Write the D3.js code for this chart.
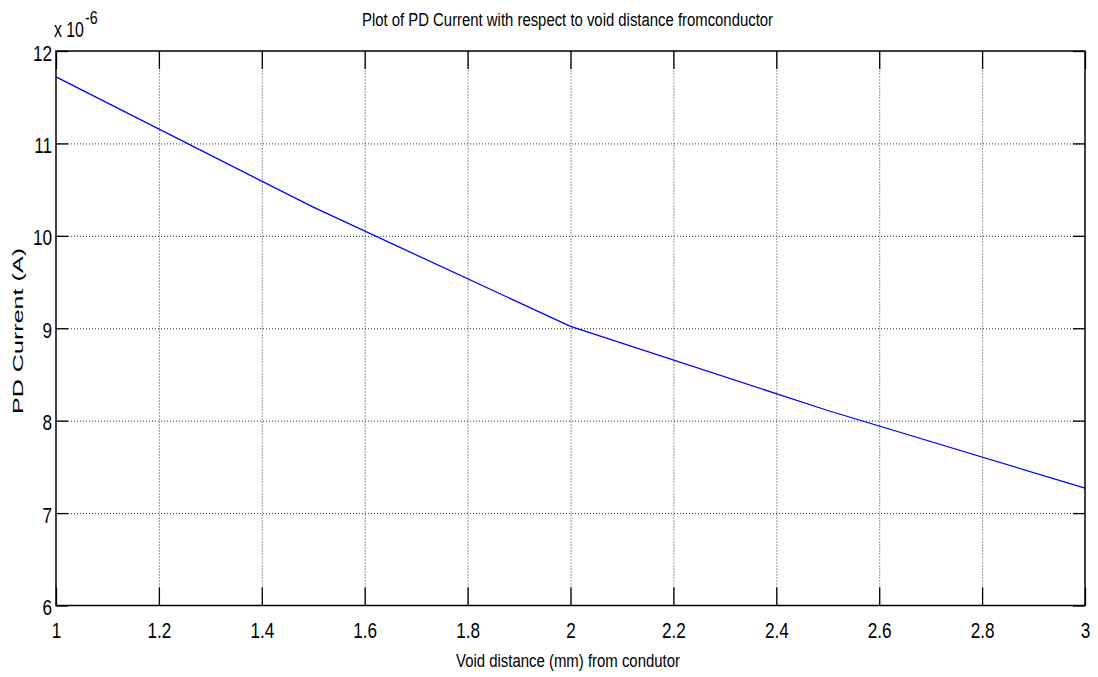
<!DOCTYPE html>
<html>
<head>
<meta charset="utf-8">
<script src="https://cdn.jsdelivr.net/npm/d3@7/dist/d3.min.js"></script>
<style>
  html, body { margin: 0; padding: 0; background: #fff; }
  svg { display: block; }
</style>
</head>
<body>
<svg id="chart" width="1098" height="677"></svg>
<script>
// ---- data ----
const voidDistance = [1, 1.5, 2, 2.5, 3];              // mm
const pdCurrent = [11.72, 10.31, 9.02, 8.11, 7.27];    // x 10^-6 A
const xTicks = [1, 1.2, 1.4, 1.6, 1.8, 2, 2.2, 2.4, 2.6, 2.8, 3];
const yTicks = [6, 7, 8, 9, 10, 11, 12];
const titleText = "Plot of PD Current with respect to void distance fromconductor";
const xLabelText = "Void distance (mm) from condutor";
const yLabelText = "PD Current (A)";

// ---- layout ----
const svg = d3.select("#chart");
const L = 56, R = 1085, T = 51, B = 605.5;
const W = R - L, H = B - T;
const FONT = "'Liberation Sans', Arial, Helvetica, sans-serif";

const x = d3.scaleLinear().domain([1, 3]).range([L, R]);
const y = d3.scaleLinear().domain([6, 12]).range([B, T]);

// grid lines (dotted)
const grid = svg.append("g");
grid.append("g")
  .attr("transform", `translate(0,${B})`)
  .call(d3.axisBottom(x).tickValues(xTicks.slice(1, -1)).tickSize(-H).tickFormat(""))
  .call(g => g.select(".domain").remove())
  .selectAll("line").attr("stroke", "#333").attr("stroke-width", 1).attr("stroke-dasharray", "1,2");
grid.append("g")
  .attr("transform", `translate(${L},0)`)
  .call(d3.axisLeft(y).tickValues(yTicks.slice(1, -1)).tickSize(-W).tickFormat(""))
  .call(g => g.select(".domain").remove())
  .selectAll("line").attr("stroke", "#333").attr("stroke-width", 1).attr("stroke-dasharray", "1,2");

// data line
const line = d3.line().x((d, i) => x(voidDistance[i])).y(d => y(d));
svg.append("path")
  .datum(pdCurrent)
  .attr("fill", "none")
  .attr("stroke", "#0000ff")
  .attr("stroke-width", 1.3)
  .attr("d", line);

// axes with inward ticks
function styleAxis(g) {
  g.select(".domain").remove();
  g.selectAll(".tick line").attr("stroke", "#000").attr("stroke-width", 1.3);
}
const xb = svg.append("g").attr("transform", `translate(0,${B})`)
  .call(d3.axisBottom(x).tickValues(xTicks).tickSizeInner(-18).tickSizeOuter(0).tickFormat(d3.format("")))
  .call(styleAxis);
xb.selectAll(".tick text")
  .attr("y", 0).attr("dy", 0)
  .attr("transform", "translate(0,32) scale(0.78,1)")
  .attr("font-family", FONT).attr("font-size", 22).attr("fill", "#000");

svg.append("g").attr("transform", `translate(0,${T})`)
  .call(d3.axisTop(x).tickValues(xTicks).tickSizeInner(-18).tickSizeOuter(0).tickFormat(""))
  .call(styleAxis);

const yl = svg.append("g").attr("transform", `translate(${L},0)`)
  .call(d3.axisLeft(y).tickValues(yTicks).tickSizeInner(-12).tickSizeOuter(0).tickFormat(d3.format("")))
  .call(styleAxis);
yl.selectAll(".tick text")
  .attr("x", 0).attr("dy", 0)
  .attr("text-anchor", "end")
  .attr("transform", "translate(-4,9) scale(0.78,1)")
  .attr("font-family", FONT).attr("font-size", 22).attr("fill", "#000");

svg.append("g").attr("transform", `translate(${R},0)`)
  .call(d3.axisRight(y).tickValues(yTicks).tickSizeInner(-12).tickSizeOuter(0).tickFormat(""))
  .call(styleAxis);

// frame
svg.append("rect")
  .attr("x", L).attr("y", T).attr("width", W).attr("height", H)
  .attr("fill", "none").attr("stroke", "#000").attr("stroke-width", 1.5);

// exponent label
svg.append("text")
  .attr("transform", "translate(54,37) scale(0.72,1)")
  .attr("font-family", FONT).attr("font-size", 22).attr("fill", "#000")
  .text("x 10");
svg.append("text")
  .attr("transform", "translate(85,24) scale(0.75,1)")
  .attr("font-family", FONT).attr("font-size", 19).attr("fill", "#000")
  .text("-6");

// title
svg.append("text")
  .attr("x", 567.5).attr("y", 26)
  .attr("text-anchor", "middle")
  .attr("font-family", FONT).attr("font-size", 18).attr("fill", "#000")
  .attr("textLength", 411).attr("lengthAdjust", "spacingAndGlyphs")
  .text(titleText);

// x label
svg.append("text")
  .attr("x", 568).attr("y", 667)
  .attr("text-anchor", "middle")
  .attr("font-family", FONT).attr("font-size", 18).attr("fill", "#000")
  .attr("textLength", 224).attr("lengthAdjust", "spacingAndGlyphs")
  .text(xLabelText);

// y label
svg.append("text")
  .attr("transform", "translate(23,331) rotate(-90)")
  .attr("text-anchor", "middle")
  .attr("font-family", FONT).attr("font-size", 15).attr("fill", "#000")
  .attr("textLength", 166).attr("lengthAdjust", "spacingAndGlyphs")
  .text(yLabelText);
</script>
</body>
</html>
